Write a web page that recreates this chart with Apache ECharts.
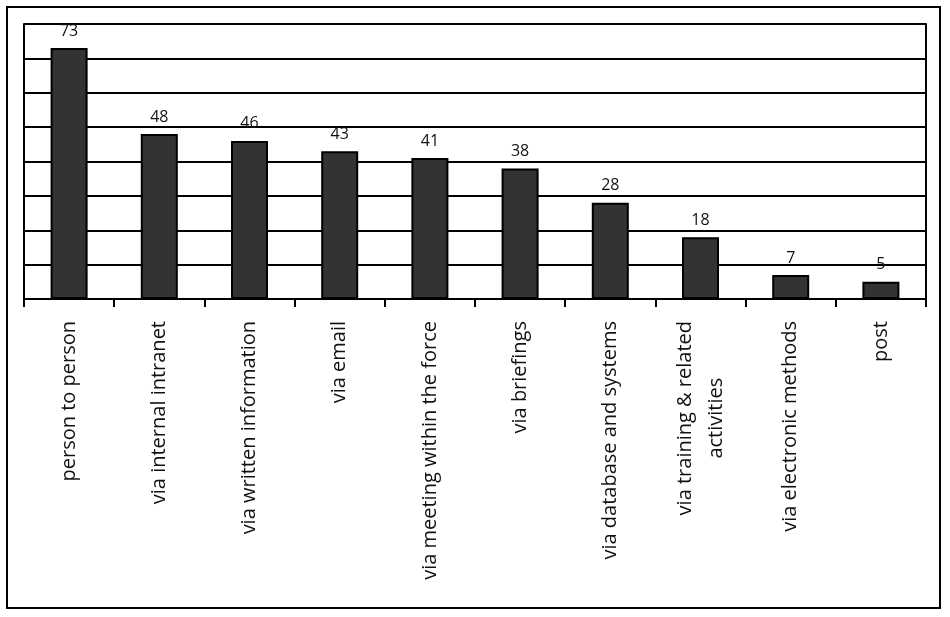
<!DOCTYPE html>
<html>
<head>
<meta charset="utf-8">
<script src="https://cdn.jsdelivr.net/npm/echarts@6/dist/echarts.min.js"></script>
<style>
  html, body { margin: 0; padding: 0; background: #fff; }
  #chart { width: 950px; height: 617px; }
</style>
</head>
<body>
<div id="chart"></div>
<script>
// 数据
const categories = [
  'person to person',
  'via internal intranet',
  'via written information',
  'via email',
  'via meeting within the force',
  'via briefings',
  'via database and systems',
  'via training & related\nactivities',
  'via electronic methods',
  'post'
];
const values = [73, 48, 46, 43, 41, 38, 28, 18, 7, 5];
const yTicks = [0, 10, 20, 30, 40, 50, 60, 70, 80];

const FONT = '"Open Sans", sans-serif';

const chart = echarts.init(document.getElementById('chart'));

const option = {
  animation: false,
  backgroundColor: '#fff',
  // 外框
  graphic: [{
    type: 'rect',
    shape: { x: 7, y: 7, width: 933, height: 601 },
    style: { fill: 'none', stroke: '#000', lineWidth: 2 },
    z: 100
  }],
  grid: { left: 24, right: 24, top: 24, bottom: 318, containLabel: false },
  xAxis: {
    type: 'category',
    data: categories,
    boundaryGap: true,
    axisLine: { show: true, lineStyle: { color: '#000', width: 2 } },
    axisTick: { show: true, length: 8, alignWithLabel: false, lineStyle: { color: '#000', width: 2 } },
    axisLabel: {
      interval: 0,
      rotate: 90,
      margin: 22,
      color: '#000',
      fontFamily: FONT,
      fontSize: 20,
      formatter: function (v) {
        const lines = v.split('\n');
        return lines.map((l, i) => i === 0 ? '{a|' + l + '}' : '{b|' + l + '}').join('\n');
      },
      rich: {
        a: { fontFamily: FONT, fontSize: 20, color: '#111', lineHeight: 31 },
        b: { fontFamily: FONT, fontSize: 20, color: '#111', lineHeight: 31, align: 'center' }
      }
    }
  },
  yAxis: [{
    type: 'value',
    min: yTicks[0],
    max: yTicks[yTicks.length - 1],
    interval: 10,
    axisLine: { show: true, lineStyle: { color: '#000', width: 2 } },
    axisTick: { show: false },
    axisLabel: { show: false },
    splitLine: { show: true, lineStyle: { color: '#000', width: 2 } }
  }, {
    type: 'value',
    position: 'right',
    min: yTicks[0],
    max: yTicks[yTicks.length - 1],
    interval: 10,
    axisLine: { show: true, lineStyle: { color: '#000', width: 2 } },
    axisTick: { show: false },
    axisLabel: { show: false },
    splitLine: { show: false }
  }],
  series: [{
    type: 'bar',
    data: values,
    barWidth: 37,
    itemStyle: { color: '#333333', borderColor: '#000', borderWidth: 2 },
    label: {
      show: true,
      position: 'top',
      distance: 9,
      color: '#111',
      fontFamily: FONT,
      fontSize: 16
    }
  }]
};

chart.setOption(option);
</script>
</body>
</html>
